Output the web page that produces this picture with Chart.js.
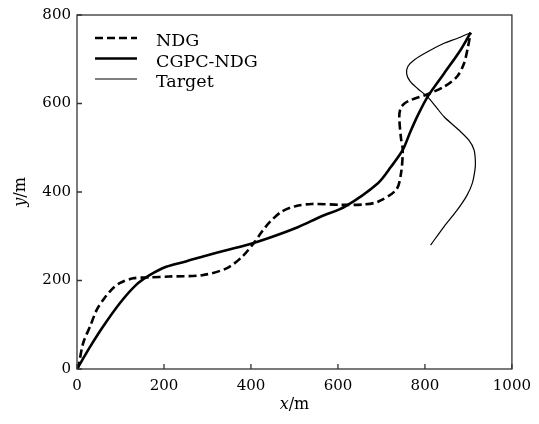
<!DOCTYPE html>
<html>
<head>
<meta charset="utf-8">
<script src="https://cdn.jsdelivr.net/npm/chart.js@4/dist/chart.umd.min.js"></script>
<style>
  html, body { margin: 0; padding: 0; background: #fff; }
  #wrap { width: 539px; height: 424px; }
</style>
</head>
<body>
<div id="wrap"><canvas id="trajChart"></canvas></div>
<script>
// trajectories (x/m, y/m)
const ndgX = [0, 3, 14, 30, 45, 60, 79, 98, 129, 167, 212, 288, 345, 380, 406, 425, 444, 471, 502, 540, 608, 661, 692, 734, 745, 749, 745, 741, 744, 753, 768, 806, 844, 874, 890, 899, 905];
const ndgY = [0, 5, 58, 96, 133, 156, 179, 194, 205, 207, 209, 212, 228, 254, 284, 310, 333, 356, 368, 373, 371, 372, 378, 405, 442, 495, 521, 570, 589, 600, 608, 621, 638, 661, 691, 728, 760];

const cgpcX = [0, 30, 60, 98, 136, 167, 205, 250, 296, 350, 406, 441, 509, 560, 616, 692, 722, 749, 766, 783, 806, 844, 882, 905];
const cgpcY = [0, 50, 96, 148, 190, 212, 231, 243, 256, 270, 285, 296, 321, 344, 367, 420, 457, 495, 535, 572, 615, 668, 721, 760];

const targetX = [813, 844, 874, 897, 909, 915, 916, 913, 901, 878, 844, 825, 806, 783, 766, 758, 761, 776, 806, 844, 874, 905];
const targetY = [280, 322, 359, 393, 420, 450, 468, 495, 517, 540, 570, 593, 615, 634, 650, 667, 684, 699, 717, 736, 747, 760];

const xTicks = [0, 200, 400, 600, 800, 1000];
const yTicks = [0, 200, 400, 600, 800];

const serif = "'DejaVu Serif', 'Liberation Serif', serif";

function toPoints(xs, ys) {
    return xs.map((x, i) => ({ x: x, y: ys[i] }));
}

// axes box + inward ticks
const frame = {
    id: 'frame',
    afterDraw(chart) {
        const c = chart.ctx;
        const a = chart.chartArea;
        const xs = chart.scales.x, ys = chart.scales.y;
        c.save();
        c.strokeStyle = '#333';
        c.lineWidth = 1.3;
        c.strokeRect(a.left, a.top, a.right - a.left, a.bottom - a.top);
        c.beginPath();
        xTicks.forEach(v => {
            const px = xs.getPixelForValue(v);
            c.moveTo(px, a.bottom);
            c.lineTo(px, a.bottom - 5);
        });
        yTicks.forEach(v => {
            const py = ys.getPixelForValue(v);
            c.moveTo(a.left, py);
            c.lineTo(a.left + 5, py);
        });
        c.stroke();
        c.restore();
    }
};

// draws "x/m" style label: italic variable, upright unit
function drawUnitLabel(c, v, unit, cx, cy) {
    const fi = 'italic 16px ' + serif;
    const fr = '16px ' + serif;
    c.font = fi;
    const w1 = c.measureText(v).width;
    c.font = fr;
    const w2 = c.measureText(unit).width;
    let x = cx - (w1 + w2) / 2;
    c.textAlign = 'left';
    c.textBaseline = 'middle';
    c.font = fi;
    c.fillText(v, x, cy);
    c.font = fr;
    c.fillText(unit, x + w1, cy);
}

const axisTitles = {
    id: 'axisTitles',
    afterDraw(chart) {
        const c = chart.ctx;
        const a = chart.chartArea;
        c.save();
        c.fillStyle = '#000';
        drawUnitLabel(c, 'x', '/m', (a.left + a.right) / 2, 405);
        c.translate(21, (a.top + a.bottom) / 2);
        c.rotate(-Math.PI / 2);
        drawUnitLabel(c, 'y', '/m', 0, 0);
        c.restore();
    }
};

// legend drawn inside the plot, top-left
const innerLegend = {
    id: 'innerLegend',
    afterDraw(chart) {
        const c = chart.ctx;
        const a = chart.chartArea;
        c.save();
        c.font = '17.5px ' + serif;
        c.textBaseline = 'alphabetic';
        c.fillStyle = '#000';
        chart.data.datasets.forEach((ds, i) => {
            const base = a.top + 31 + i * 20.5;
            const x0 = a.left + 18;
            c.beginPath();
            c.strokeStyle = '#000';
            c.lineWidth = ds.borderWidth;
            c.setLineDash(ds.borderDash || []);
            c.moveTo(x0, base - 8);
            c.lineTo(x0 + 42, base - 8);
            c.stroke();
            c.setLineDash([]);
            c.fillText(ds.label, a.left + 79, base);
        });
        c.restore();
    }
};

new Chart(document.getElementById('trajChart'), {
    type: 'scatter',
    data: {
        datasets: [
            {
                label: 'NDG',
                data: toPoints(ndgX, ndgY),
                showLine: true,
                borderColor: '#000',
                borderWidth: 2.6,
                borderDash: [8, 4],
                pointRadius: 0,
                tension: 0.3
            },
            {
                label: 'CGPC-NDG',
                data: toPoints(cgpcX, cgpcY),
                showLine: true,
                borderColor: '#000',
                borderWidth: 2.6,
                pointRadius: 0,
                tension: 0.3
            },
            {
                label: 'Target',
                data: toPoints(targetX, targetY),
                showLine: true,
                borderColor: '#000',
                borderWidth: 1.2,
                pointRadius: 0,
                tension: 0.3
            }
        ]
    },
    options: {
        responsive: true,
        maintainAspectRatio: false,
        animation: false,
        layout: { padding: { left: 0, top: 15, right: 24, bottom: 0 } },
        plugins: {
            legend: { display: false },
            tooltip: { enabled: false }
        },
        scales: {
            x: {
                type: 'linear',
                min: 0,
                max: 1000,
                afterFit: s => { s.height = 55; },
                afterBuildTicks: s => { s.ticks = xTicks.map(v => ({ value: v })); },
                grid: { display: false, drawTicks: false },
                border: { display: false },
                ticks: {
                    color: '#000',
                    padding: 8,
                    font: { family: serif, size: 15 },
                    callback: v => String(v)
                },
                title: { display: false }
            },
            y: {
                type: 'linear',
                min: 0,
                max: 800,
                afterFit: s => { s.width = 77; },
                afterBuildTicks: s => { s.ticks = yTicks.map(v => ({ value: v })); },
                grid: { display: false, drawTicks: false },
                border: { display: false },
                ticks: {
                    color: '#000',
                    padding: 6,
                    font: { family: serif, size: 15 },
                    callback: v => String(v)
                },
                title: { display: false }
            }
        }
    },
    plugins: [frame, axisTitles, innerLegend]
});
</script>
</body>
</html>
